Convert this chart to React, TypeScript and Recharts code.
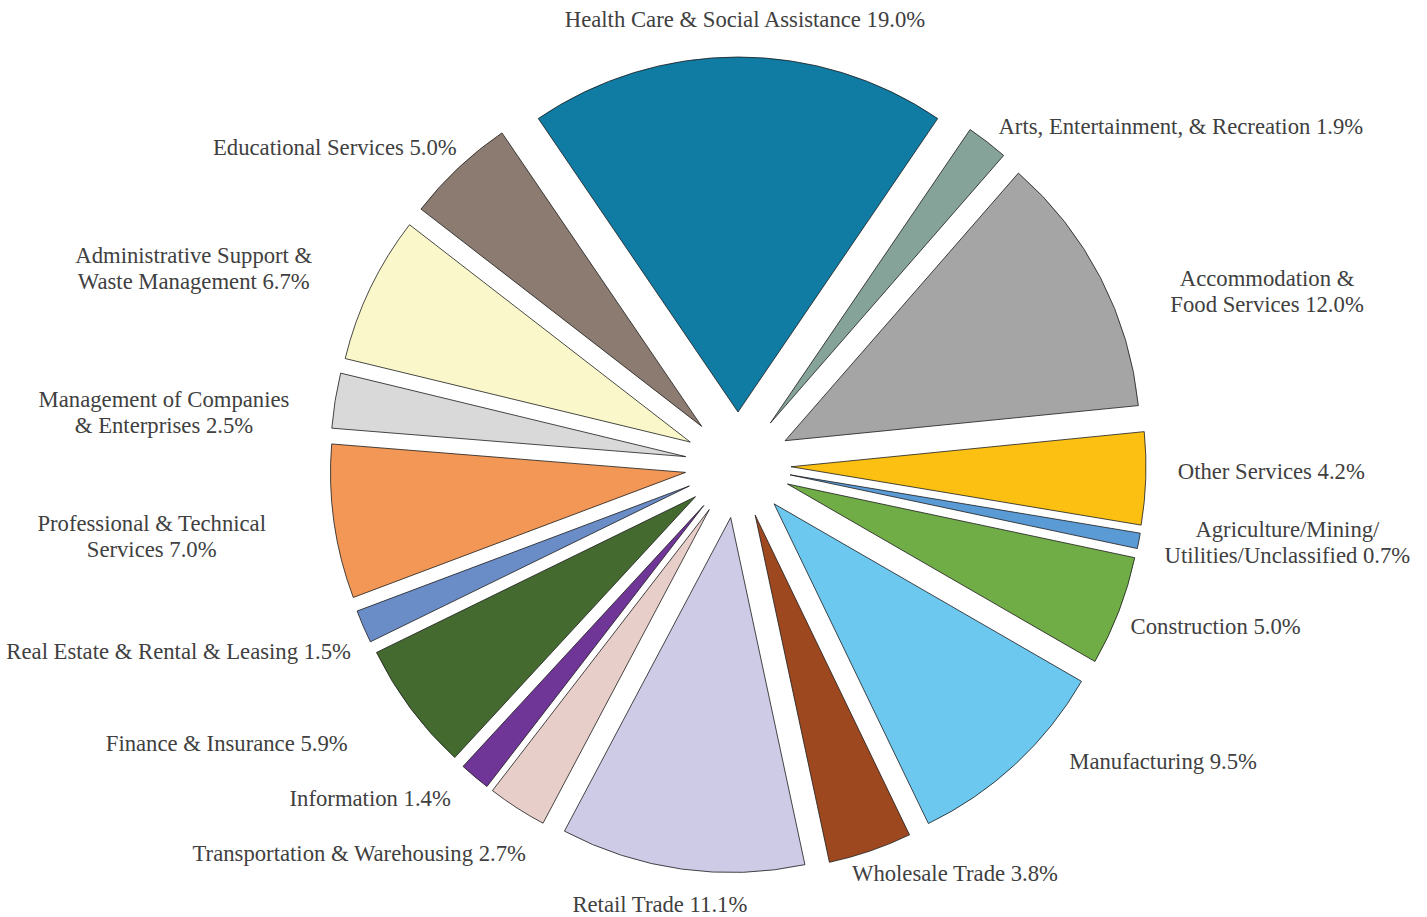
import { PieChart, Pie, Cell, Sector } from "recharts";

const categories = [
  "Health Care & Social Assistance",
  "Arts, Entertainment, & Recreation",
  "Accommodation &\nFood Services",
  "Other Services",
  "Agriculture/Mining/\nUtilities/Unclassified",
  "Construction",
  "Manufacturing",
  "Wholesale Trade",
  "Retail Trade",
  "Transportation & Warehousing",
  "Information",
  "Finance & Insurance",
  "Real Estate & Rental & Leasing",
  "Professional & Technical\nServices",
  "Management of Companies\n& Enterprises",
  "Administrative Support &\nWaste Management",
  "Educational Services",
];

const shares = [19.0, 1.9, 12.0, 4.2, 0.7, 5.0, 9.5, 3.8, 11.1, 2.7, 1.4, 5.9, 1.5, 7.0, 2.5, 6.7, 5.0];

const sliceColors = [
  "#107ba3", "#86a39a", "#a5a5a5", "#fbc012", "#5b9bd5", "#70ad47",
  "#6dc8f0", "#9e4820", "#cdcbe6", "#e8cec8", "#6f3597", "#446a30",
  "#6a8dc8", "#f29755", "#d9d9d9", "#faf8cb", "#8c7b70",
];

// hand tweaks so labels sit where the original's best-fit put them
const labelNudge = [
  [7, -5], [-1, 11], [52, 35], [12, -8], [6, -7], [-7, 4], [40, -27], [-25, -9],
  [-7, 3], [20, 18], [-11, -3], [-47, 15], [6, 12], [-48, 8], [-26, 19], [-40, 0], [12, 4],
];

const data = categories.map((name, i) => ({ name, value: shares[i] }));
const total = shares.reduce((a, b) => a + b, 0);

const RADIAN = Math.PI / 180;
const EXPLODE = 53;
const GAP = 20;
const FONT = 22.7;
const LINE_H = 25.8;
const FONT_FAMILY = "'Liberation Serif', 'Times New Roman', serif";

let ctx: CanvasRenderingContext2D | null = null;
function measure(text: string) {
  if (!ctx) {
    ctx = document.createElement("canvas").getContext("2d");
  }
  if (!ctx) return text.length * FONT * 0.45;
  ctx.font = `${FONT}px ${FONT_FAMILY}`;
  return ctx.measureText(text).width;
}

function ExplodedSlice(props: any) {
  const { cx, cy, midAngle } = props;
  const rad = -midAngle * RADIAN;
  return (
    <Sector
      {...props}
      cx={cx + EXPLODE * Math.cos(rad)}
      cy={cy + EXPLODE * Math.sin(rad)}
    />
  );
}

function renderLabel(props: any) {
  const { cx, cy, midAngle, outerRadius, index } = props;
  const rad = -midAngle * RADIAN;
  const dx = Math.cos(rad);
  const dy = Math.sin(rad);
  const px = cx + (EXPLODE + outerRadius + GAP) * dx;
  const py = cy + (EXPLODE + outerRadius + GAP) * dy;
  const lines = `${categories[index]} ${shares[index].toFixed(1)}%`.split("\n");
  const w = Math.max(...lines.map(measure));
  const h = lines.length * LINE_H;
  let bx = dx > 0.3 ? px + w / 2 : dx < -0.3 ? px - w / 2 : px + (dx * w) / 2;
  let by = py + (dy * h) / 2;
  bx += labelNudge[index][0];
  by += labelNudge[index][1];
  const top = by - h / 2;
  return (
    <text
      key={`lbl-${index}`}
      x={bx}
      y={top}
      textAnchor="middle"
      fill="#404040"
      fontSize={FONT}
      fontFamily={FONT_FAMILY}
    >
      {lines.map((line, i) => (
        <tspan key={i} x={bx} y={top + LINE_H * (i + 0.5) + 0.33 * FONT}>
          {line}
        </tspan>
      ))}
    </text>
  );
}

export default function App() {
  const start = 90 + (shares[0] / total) * 180;
  return (
    <div style={{ position: "absolute", top: 0, left: 0, width: 1427, height: 917, background: "#fff" }}>
      <PieChart width={1427} height={917} margin={{ top: 0, right: 0, bottom: 0, left: 0 }}>
        <Pie
          data={data}
          dataKey="value"
          nameKey="name"
          cx={738}
          cy={465}
          outerRadius={355}
          startAngle={start}
          endAngle={start - 360}
          stroke="#1a1a1a"
          strokeWidth={0.8}
          shape={ExplodedSlice}
          activeShape={ExplodedSlice}
          inactiveShape={ExplodedSlice}
          label={renderLabel}
          labelLine={false}
          isAnimationActive={false}
        >
          {data.map((d, i) => (
            <Cell key={d.name} fill={sliceColors[i]} />
          ))}
        </Pie>
      </PieChart>
    </div>
  );
}
